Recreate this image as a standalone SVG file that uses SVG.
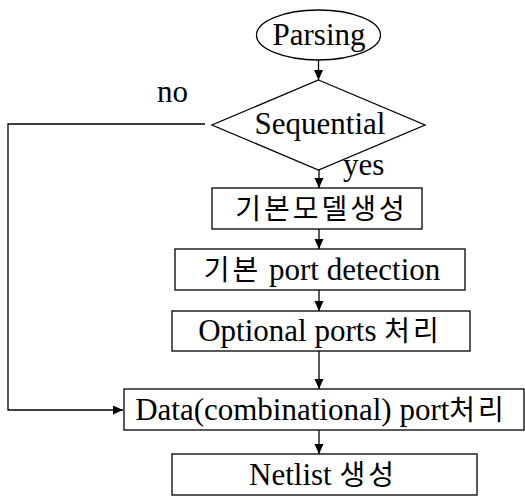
<svg xmlns="http://www.w3.org/2000/svg" width="525" height="497" viewBox="0 0 525 497">
  <style>
    .shape { fill: #ffffff; stroke: #000000; stroke-width: 1.3; }
    .link { fill: none; stroke: #000000; stroke-width: 1.3; }
    .lbl { font-family: "Liberation Serif", "Noto Sans CJK KR", serif; font-size: 31px; fill: #000000; text-anchor: middle; }
    .side { font-family: "Liberation Serif", serif; font-size: 31px; fill: #000000; }
    .ko { font-family: "Noto Sans CJK KR", "Noto Sans CJK SC", sans-serif; font-size: 28px; }
  </style>
  <defs>
    <marker id="arrow" markerWidth="10" markerHeight="10" refX="10" refY="4.5" orient="auto" markerUnits="userSpaceOnUse">
      <path d="M0,0 L10,4.5 L0,9 z" fill="#000000"/>
    </marker>
  </defs>

  <rect width="525" height="497" fill="#ffffff"/>

  <!-- connectors -->
  <g id="connectors">
    <line class="link" x1="318.5" y1="60" x2="318.5" y2="80" marker-end="url(#arrow)"/>
    <line class="link" x1="319" y1="170" x2="319" y2="188" marker-end="url(#arrow)"/>
    <line class="link" x1="319" y1="229" x2="319" y2="249" marker-end="url(#arrow)"/>
    <line class="link" x1="319" y1="290" x2="319" y2="311" marker-end="url(#arrow)"/>
    <line class="link" x1="319" y1="351" x2="319" y2="389" marker-end="url(#arrow)"/>
    <line class="link" x1="319" y1="430" x2="319" y2="454" marker-end="url(#arrow)"/>
    <polyline class="link" points="205,124 8,124 8,410 123,410" marker-end="url(#arrow)"/>
    <text class="side" x="157" y="102">no</text>
    <text class="side" x="343" y="175">yes</text>
  </g>

  <g id="parsing">
    <ellipse class="shape" cx="318.5" cy="35" rx="62" ry="25"/>
    <text class="lbl" x="319" y="45">Parsing</text>
  </g>

  <g id="sequential">
    <polygon class="shape" points="318.5,80 425,125 318.5,170 212,125"/>
    <text class="lbl" x="320" y="134">Sequential</text>
  </g>

  <g id="base-model">
    <rect class="shape" x="212" y="188" width="210" height="41"/>
    <text class="lbl ko" x="321.5" y="219" letter-spacing="3">기본모델생성</text>
  </g>

  <g id="port-detection">
    <rect class="shape" x="175" y="249" width="290" height="41"/>
    <text class="lbl" x="322" y="280"><tspan class="ko" letter-spacing="3">기본</tspan> port detection</text>
  </g>

  <g id="optional-ports">
    <rect class="shape" x="172" y="311" width="298" height="40"/>
    <text class="lbl" x="320" y="341">Optional ports <tspan class="ko" letter-spacing="3">처리</tspan></text>
  </g>

  <g id="data-ports">
    <rect class="shape" x="124" y="389" width="400" height="41"/>
    <text class="lbl" x="321" y="420">Data(combinational) port<tspan class="ko" letter-spacing="3">처리</tspan></text>
  </g>

  <g id="netlist">
    <rect class="shape" x="172" y="454" width="305" height="41"/>
    <text class="lbl" x="323" y="485">Netlist <tspan class="ko" letter-spacing="3">생성</tspan></text>
  </g>
</svg>
